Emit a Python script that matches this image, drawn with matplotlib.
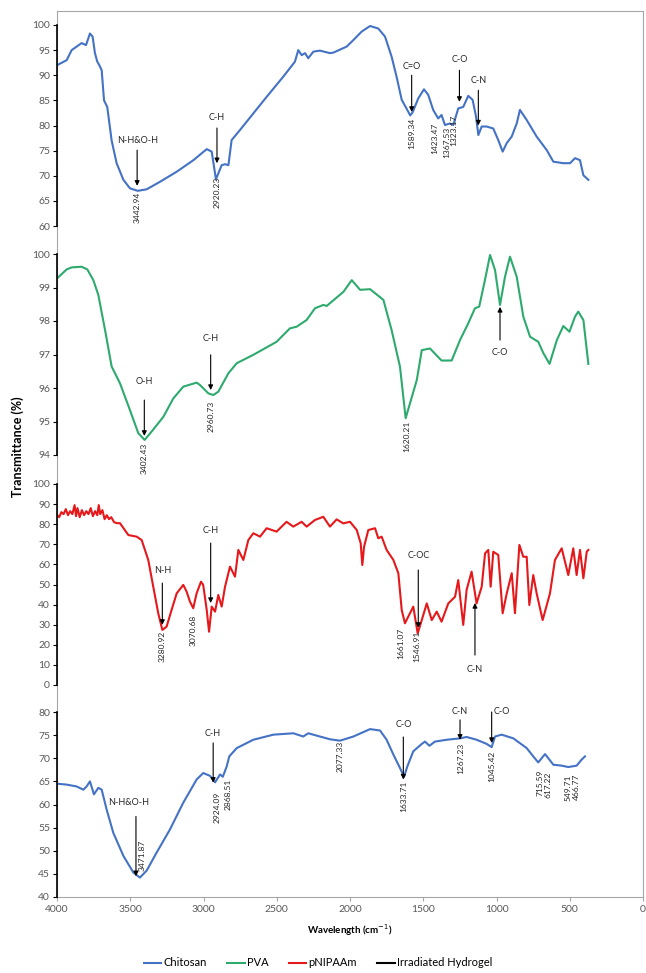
import matplotlib
matplotlib.use('Agg')
import matplotlib.pyplot as plt
from matplotlib.lines import Line2D

plt.rcParams['font.family'] = ['Lato', 'DejaVu Sans']

# Chitosan
chit_x = [4000, 3934, 3900, 3866, 3832, 3802, 3775, 3757, 3741, 3725, 3711, 3695, 3679, 3657, 3627,
          3593, 3547, 3502, 3449, 3388, 3297, 3183, 3069, 2978, 2944, 2915, 2876, 2853, 2830, 2808,
          2751, 2660, 2569, 2456, 2376, 2353, 2330, 2307, 2285, 2250, 2205, 2137, 2114, 2023, 1977,
          1920, 1863, 1807, 1761, 1716, 1682, 1647, 1609, 1589, 1573, 1534, 1495, 1466, 1432, 1398,
          1375, 1352, 1318, 1295, 1261, 1227, 1193, 1163, 1140, 1124, 1101, 1067, 1022, 988, 958,
          930, 896, 862, 840, 794, 726, 657, 612, 544, 498, 464, 430, 407, 373]
chit_y = [92, 93, 95, 95.7, 96.4, 96, 98.3, 97.7, 94.4, 92.7, 92, 91, 85, 83.7, 77,
          72.5, 69.2, 67.5, 67, 67.3, 68.8, 70.8, 73.1, 75.3, 74.8, 69.3, 72.1, 72.3, 72.1, 77.1,
          79.1, 82.4, 85.7, 89.7, 92.7, 95, 94, 94.4, 93.4, 94.7, 94.9, 94.4, 94.5, 95.7, 97,
          98.7, 99.8, 99.3, 97.7, 93.7, 89.7, 85.1, 83.1, 82.0, 82.6, 85.4, 87.2, 86.1, 83.1, 81.4,
          82.1, 80.1, 80.4, 80.1, 83.4, 83.7, 85.9, 85.1, 81.8, 78.1, 79.8, 79.8, 79.4, 77.1, 74.8,
          76.5, 77.8, 80.4, 83.1, 81.1, 77.8, 75.1, 72.8, 72.5, 72.5, 73.5, 73.1, 70.1, 69.2]

# PVA
pva_x = [4000, 3934, 3900, 3832, 3793, 3752, 3718, 3672, 3627, 3570, 3502, 3445, 3402, 3354, 3274,
         3206, 3138, 3047, 3024, 2967, 2933, 2899, 2830, 2773, 2660, 2501, 2410, 2364, 2296, 2239,
         2182, 2159, 2045, 1988, 1931, 1863, 1772, 1716, 1659, 1620, 1544, 1510, 1454, 1375, 1306,
         1249, 1193, 1147, 1118, 1079, 1044, 1010, 976, 942, 908, 862, 817, 771, 715, 680,
         638, 588, 544, 502, 464, 442, 407, 373]
pva_y = [99.27, 99.54, 99.6, 99.62, 99.54, 99.22, 98.78, 97.73, 96.64, 96.14, 95.34, 94.65, 94.45, 94.7, 95.14,
         95.69, 96.04, 96.16, 96.09, 95.84, 95.79, 95.89, 96.44, 96.74, 96.99, 97.38, 97.78, 97.83, 98.03, 98.38,
         98.48, 98.45, 98.87, 99.22, 98.93, 98.95, 98.63, 97.73, 96.64, 95.1, 96.24, 97.13, 97.18, 96.82, 96.82,
         97.43, 97.93, 98.38, 98.43, 99.22, 99.97, 99.52, 98.48, 99.32, 99.92, 99.32, 98.13, 97.53, 97.38, 97.04,
         96.72, 97.43, 97.85, 97.68, 98.13, 98.28, 98.03, 96.72]

# pNIPAAm
pnip_x = [4000, 3985, 3970, 3955, 3940, 3925, 3910, 3895, 3880, 3870, 3860, 3845, 3830, 3815, 3800,
          3785, 3770, 3755, 3740, 3725, 3715, 3705, 3690, 3675, 3660, 3645, 3630, 3610, 3590, 3570,
          3513, 3456, 3422, 3377, 3343, 3309, 3281, 3252, 3218, 3183, 3138, 3115, 3092, 3070, 3047,
          3017, 3002, 2978, 2962, 2944, 2921, 2899, 2876, 2853, 2819, 2785, 2762, 2728, 2694, 2660,
          2614, 2569, 2501, 2433, 2387, 2330, 2296, 2239, 2182, 2137, 2091, 2046, 2000, 1954, 1927,
          1916, 1904, 1875, 1829, 1807, 1784, 1750, 1704, 1670, 1647, 1625, 1602, 1568, 1538, 1510,
          1476, 1442, 1408, 1375, 1329, 1283, 1261, 1227, 1204, 1170, 1136, 1101, 1078, 1056, 1040,
          1022, 988, 958, 930, 896, 874, 844, 817, 794, 776, 749, 726, 685, 635, 601,
          555, 510, 476, 453, 430, 407, 384, 373]
pnip_y = [84.6, 83.5, 86, 85, 87.5, 84.5, 86.5, 85, 89.5, 84, 88, 83.5, 87, 84.5, 86.5,
          85, 88, 84, 86.5, 84.5, 89.5, 85, 87, 82.5, 84.5, 82.5, 83.5, 81, 80.5, 80.5,
          74.6, 73.8, 72.1, 62.2, 49, 35.7, 27.4, 29, 37.3, 45.6, 49.8, 46.4, 41.4, 38.2, 45.6,
          51.4, 49.8, 37.3, 26.5, 39, 36.5, 44.8, 39, 48.9, 58.9, 53.9, 67.2, 62.2, 72.1, 75.5,
          73.8, 78, 76.3, 81.2, 78.8, 81.2, 78.8, 82.1, 83.7, 78.8, 82.4, 80.4, 81.2, 77.1, 70.5,
          59.7, 68.8, 77.1, 78, 73, 73.8, 67.2, 62.2, 55.6, 37.3, 30.7, 34, 39, 25.7, 32.3,
          40.6, 32.3, 36.5, 31.5, 40.6, 43.9, 52.2, 29.9, 47.3, 56.4, 40.6, 48.9, 65.5, 67.2, 48.9,
          66.3, 64.7, 35.7, 45.6, 55.6, 35.7, 69.7, 63.8, 63.8, 39.8, 54.7, 45.6, 32.3, 45.6, 62.2,
          68, 54.7, 68, 54.7, 67.2, 53.1, 66.3, 67.2]

# Irradiated hydrogel
hyd_x = [4000, 3934, 3866, 3820, 3798, 3775, 3748, 3718, 3695, 3661, 3616, 3547, 3479, 3434, 3388,
         3320, 3229, 3138, 3047, 3002, 2956, 2921, 2887, 2868, 2842, 2824, 2773, 2660, 2523, 2387,
         2319, 2285, 2205, 2137, 2068, 1977, 1863, 1795, 1750, 1704, 1659, 1631, 1609, 1568, 1510,
         1488, 1458, 1420, 1340, 1249, 1204, 1136, 1067, 1033, 1010, 965, 885, 794, 749, 715,
         692, 669, 646, 612, 555, 510, 453, 419, 396]
hyd_y = [64.5, 64.3, 63.9, 63.2, 63.9, 65, 62.2, 63.6, 63.2, 58.9, 53.9, 48.9, 45.3, 44.2, 45.7,
         49.6, 54.6, 60.4, 65.4, 66.8, 66.2, 64.8, 66.5, 66.0, 68.2, 70.4, 72.2, 74, 75.1, 75.4,
         74.7, 75.4, 74.7, 74.1, 73.8, 74.7, 76.3, 76, 74, 70.8, 67.9, 66, 68.2, 71.5, 73.1,
         73.6, 72.7, 73.6, 74, 74.3, 74.6, 74, 73.1, 72.4, 74.7, 75.1, 74.3, 72.2, 70.4, 69.1,
         70, 70.9, 70, 68.6, 68.4, 68.1, 68.4, 69.7, 70.4]

# arrows: (label, arrow x, tail y, tip y, label x, label y)
chit_arrows = [('N-H&O-H', 3453, 75.1, 68.0, 3453, 77.1), ('C-H', 2908, 79.5, 72.5, 2908, 81.5),
               ('C=O', 1579, 90.0, 82.7, 1579, 91.8), ('C-O', 1253, 91.0, 84.7, 1253, 93.2),
               ('C-N', 1124, 87.0, 80.0, 1124, 89.0)]
pva_arrows = [('O-H', 3404, 95.64, 94.57, 3404, 96.2), ('C-H', 2951, 96.99, 95.94, 2951, 97.48),
              ('C-O', 976, 97.43, 98.42, 976, 97.05)]
pnip_arrows = [('N-H', 3281, 50.7, 29.9, 3281, 57.2), ('C-H', 2951, 70.6, 40.8, 2951, 77.1),
               ('C-OC', 1534, 57.2, 28.4, 1534, 64.2), ('C-N', 1147, 14.9, 40.8, 1147, 7.8)]
hyd_arrows = [('N-H&O-H', 3461, 57.4, 44.5, 3513, 60.5), ('C-H', 2934, 73.3, 64.7, 2934, 75.3),
              ('C-O', 1636, 74.6, 65.4, 1636, 77.2), ('C-N', 1249, 78.3, 74.0, 1249, 80.1),
              ('C-O', 1033, 80.0, 73.3, 962, 80.1)]

# peak numbers: (text, x, y)
chit_peaks = [('3442.94', 3453, 63.8), ('2920.23', 2908, 66.6), ('1589.34', 1579, 78.5),
              ('1423.47', 1420, 77.5), ('1367.53', 1340, 76.7), ('1323.17', 1295, 79.0)]
pva_peaks = [('3402.43', 3404, 93.9), ('2960.73', 2951, 95.14), ('1620.21', 1610, 94.55)]
pnip_peaks = [('3280.92', 3281, 19.1), ('3070.68', 3074, 27.4), ('1661.07', 1652, 20.7),
              ('1546.91', 1545, 19.0)]
hyd_peaks = [('3471.87', 3422, 48.9), ('2924.09', 2910, 59.3), ('2868.51', 2835, 62.2),
             ('2077.33', 2068, 70.4), ('1633.71', 1630, 61.8), ('1267.23', 1245, 70.0),
             ('1045.42', 1033, 68.2), ('715.59', 703, 64.7), ('617.22', 651, 64.3),
             ('549.71', 508, 63.6), ('466.77', 457, 63.9)]

blue = '#4472C4'
green = '#2EAA6E'
red = '#E5191B'
W, H = 646, 973


def box(top, bottom):
    return [57 / W, 1 - bottom / H, 586 / W, (bottom - top) / H]


fig = plt.figure(figsize=(W / 100, H / 100), dpi=100)

# outer frame + x axis
frame = fig.add_axes(box(11, 897))
frame.set_xlim(4000, 0)
frame.set_ylim(0, 1)
frame.set_yticks([])
frame.set_xticks(range(4000, -1, -500))
for s in frame.spines.values():
    s.set_color('#A6A6A6')
frame.tick_params(axis='x', colors='#A6A6A6', labelcolor='#595959', labelsize=7.5, length=3, pad=3)

panels = [
    (25, 226, (60, 100), range(60, 101, 5), chit_x, chit_y, blue, chit_arrows, chit_peaks),
    (254, 455, (94, 100), range(94, 101), pva_x, pva_y, green, pva_arrows, pva_peaks),
    (484, 685, (0, 100), range(0, 101, 10), pnip_x, pnip_y, red, pnip_arrows, pnip_peaks),
    (712, 897, (40, 80), range(40, 81, 5), hyd_x, hyd_y, blue, hyd_arrows, hyd_peaks),
]

for top, bottom, ylim, yt, xs, ys, col, arrows, peaks in panels:
    ax = fig.add_axes(box(top, bottom))
    ax.patch.set_alpha(0)
    ax.plot(xs, ys, color=col, lw=1.5, solid_joinstyle='round')
    ax.set_xlim(4000, 0)
    ax.set_ylim(*ylim)
    ax.set_xticks([])
    ax.set_yticks(list(yt))
    for k in ['top', 'right', 'bottom']:
        ax.spines[k].set_visible(False)
    ax.spines['left'].set_color('black')
    ax.spines['left'].set_linewidth(1.2)
    ax.tick_params(axis='y', length=3, labelsize=7.5, labelcolor='#595959', pad=2)
    for lab, x, y0, y1, tx, ty in arrows:
        ax.annotate('', xy=(x, y1), xytext=(x, y0),
                    arrowprops=dict(arrowstyle='-|>', color='black', lw=0.8, mutation_scale=7,
                                    shrinkA=0, shrinkB=0), annotation_clip=False)
        ax.text(tx, ty, lab, ha='center', va='center', fontsize=6.5, color='#262626', clip_on=False)
    for txt, x, y in peaks:
        ax.text(x, y, txt, rotation=90, ha='center', va='center', fontsize=6,
                color='#262626', clip_on=False)

fig.text(18 / W, 1 - 447 / H, 'Transmittance (%)', rotation=90, ha='center', va='center',
         fontsize=9, fontweight='bold')
fig.text(350 / W, 1 - 930 / H, 'Wavelength (cm$^{-1}$)', ha='center', va='center',
         fontsize=7, fontweight='bold')

handles = [Line2D([], [], color=blue, lw=1.5), Line2D([], [], color=green, lw=1.5),
           Line2D([], [], color=red, lw=1.5), Line2D([], [], color='black', lw=1.5)]
fig.legend(handles, ['Chitosan', 'PVA', 'pNIPAAm', 'Irradiated Hydrogel'], ncol=4,
           loc='center', bbox_to_anchor=(318 / W, 1 - 963 / H), frameon=False, fontsize=8,
           handlelength=1.6, handletextpad=0.2, columnspacing=1.8)

fig.savefig('out.png', dpi=100)
